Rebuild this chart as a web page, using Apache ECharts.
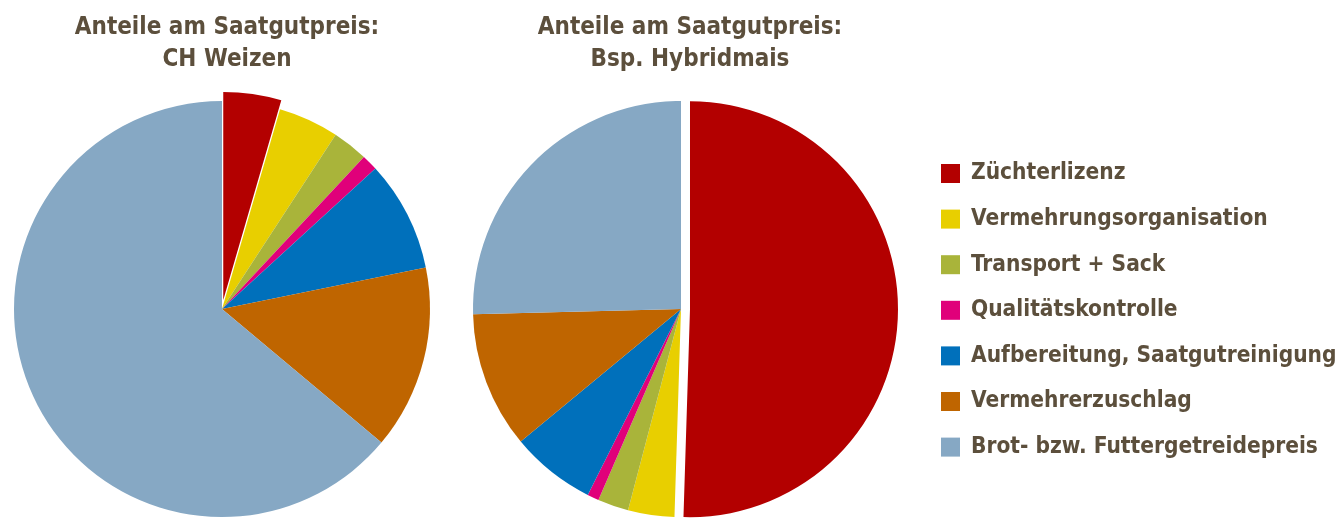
<!DOCTYPE html>
<html>
<head>
<meta charset="utf-8">
<script src="https://cdn.jsdelivr.net/npm/echarts@6/dist/echarts.min.js"></script>
<style>
  html, body { margin: 0; padding: 0; background: #fff; }
  #chart { width: 1341px; height: 522px; }
</style>
</head>
<body>
<div id="chart"></div>
<script>
var categories = ['Züchterlizenz', 'Vermehrungsorganisation', 'Transport + Sack', 'Qualitätskontrolle',
                  'Aufbereitung, Saatgutreinigung', 'Vermehrerzuschlag', 'Brot- bzw. Futtergetreidepreis'];
var weizenShares = [4.5, 4.7, 2.75, 1.25, 8.6, 14.3, 63.9];
var maisShares = [50.5, 3.6, 2.4, 0.9, 6.6, 10.6, 25.4];
var colors = ['#b30000', '#e8cf00', '#a9b43a', '#e0007a', '#0070bb', '#bf6500', '#86a8c4'];
var titles = ['Anteile am Saatgutpreis:\nCH Weizen', 'Anteile am Saatgutpreis:\nBsp. Hybridmais'];

var textColor = '#5c4f3c';
var font = '"DejaVu Sans Condensed", "DejaVu Sans", sans-serif';

function buildData(values) {
    return categories.map(function (name, i) {
        return { name: name, value: values[i], selected: i === 0 };
    });
}

function pieSeries(values, center) {
    return {
        type: 'pie',
        center: center,
        radius: 208,
        startAngle: 90,
        clockwise: true,
        selectedMode: 'multiple',
        selectedOffset: 9,
        label: { show: false },
        labelLine: { show: false },
        emphasis: { disabled: true },
        itemStyle: { borderWidth: 0 },
        data: buildData(values)
    };
}

var titleStyle = { color: textColor, fontFamily: font, fontWeight: 'bold', fontSize: 24, lineHeight: 32 };

var myChart = echarts.init(document.getElementById('chart'));

var option = {
    animation: false,
    color: colors,
    title: [
        { text: titles[0], left: 222, top: 7, textAlign: 'center', textStyle: titleStyle },
        { text: titles[1], left: 685, top: 7, textAlign: 'center', textStyle: titleStyle }
    ],
    legend: {
        orient: 'vertical',
        left: 936,
        top: 157,
        itemWidth: 19,
        itemHeight: 19,
        itemGap: 22.6,
        icon: 'rect',
        selectedMode: false,
        data: categories,
        textStyle: { color: textColor, fontFamily: font, fontWeight: 'bold', fontSize: 22.5, lineHeight: 20, padding: [0, 0, 0, 6] }
    },
    series: [
        pieSeries(weizenShares, [222, 309]),
        pieSeries(maisShares, [681, 309])
    ]
};

myChart.setOption(option);
</script>
</body>
</html>
